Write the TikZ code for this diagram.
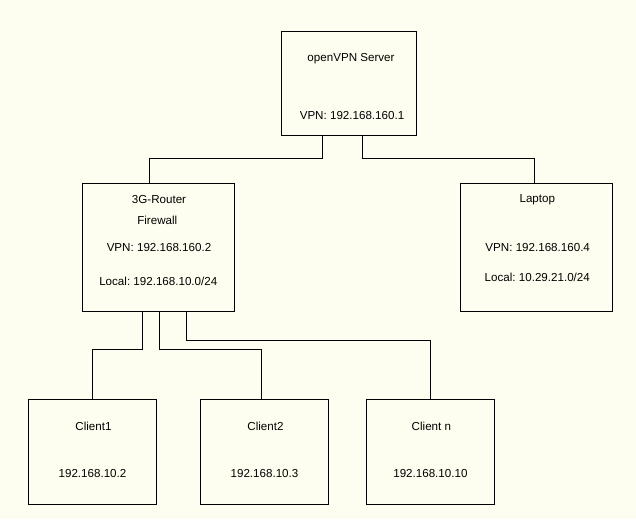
\documentclass[tikz,border=0pt]{standalone}
\usepackage{fontspec}
\setmainfont{Liberation Sans}
\usepackage{tikz}
\usetikzlibrary{positioning,calc}
\definecolor{paper}{RGB}{254,254,240}
\frenchspacing

\begin{document}
\begin{tikzpicture}[x=1pt,y=-1pt,
    box/.style={rectangle,draw,line width=0.9pt},
    lbl/.style={inner sep=0pt,font=\fontsize{11.6}{13}\selectfont}]
    \fill[paper] (0,0) rectangle (636,519);
    \useasboundingbox (0,0) rectangle (636,519);

    % server
    \node[box,minimum width=135pt,minimum height=104pt] at (349,83.3) (srv) {};
    \node[lbl] at (351,58.7) (srvname) {openVPN Server};
    \node[lbl] at (352,115.7) (srvvpn) {VPN: 192.168.160.1};

    % router and laptop
    \node[box,minimum width=152pt,minimum height=128pt] at (158.3,247.3) (rtr) {};
    \node[lbl] at (159,199.3) (rtrname) {3G-Router};
    \node[lbl] at (157.3,220.7) (rtrfw) {Firewall};
    \node[lbl] at (159,247.3) (rtrvpn) {VPN: 192.168.160.2};
    \node[lbl] at (158.3,281.3) (rtrloc) {Local: 192.168.10.0/24};

    \node[box,minimum width=152pt,minimum height=128pt] at (536.7,247.3) (lap) {};
    \node[lbl] at (537.3,200) (lapname) {Laptop};
    \node[lbl] at (537.7,247.7) (lapvpn) {VPN: 192.168.160.4};
    \node[lbl] at (537.3,277.3) (laploc) {Local: 10.29.21.0/24};

    % clients
    \foreach \cx/\cname/\cip [count=\i] in {92.5/Client1/192.168.10.2,264.5/Client2/192.168.10.3,430.4/Client n/192.168.10.10}
    {%
    \node[box,minimum width=128pt,minimum height=105pt] at (\cx,451.8) (c\i) {};
    \node[lbl] at (\cx+1,426) (cname\i) {\cname};
    \node[lbl] at (\cx,473.3) (cip\i) {\cip};
    }%

    % connections
    \draw[line width=0.9pt] ([xshift=-26.5pt]srv.south) -- ++(0,23) -| ([xshift=-9pt]rtr.north);
    \draw[line width=0.9pt] ([xshift=13pt]srv.south) -- ++(0,23) -| ([xshift=-2pt]lap.north);
    \draw[line width=0.9pt] ([xshift=-15.6pt]rtr.south) -- ++(0,37.7) -| (c1.north);
    \draw[line width=0.9pt] ([xshift=1pt]rtr.south) -- ++(0,37.7) -| ([xshift=-3pt]c2.north);
    \draw[line width=0.9pt] ([xshift=28.4pt]rtr.south) -- ++(0,28.7) -| (c3.north);
\end{tikzpicture}
\end{document}
